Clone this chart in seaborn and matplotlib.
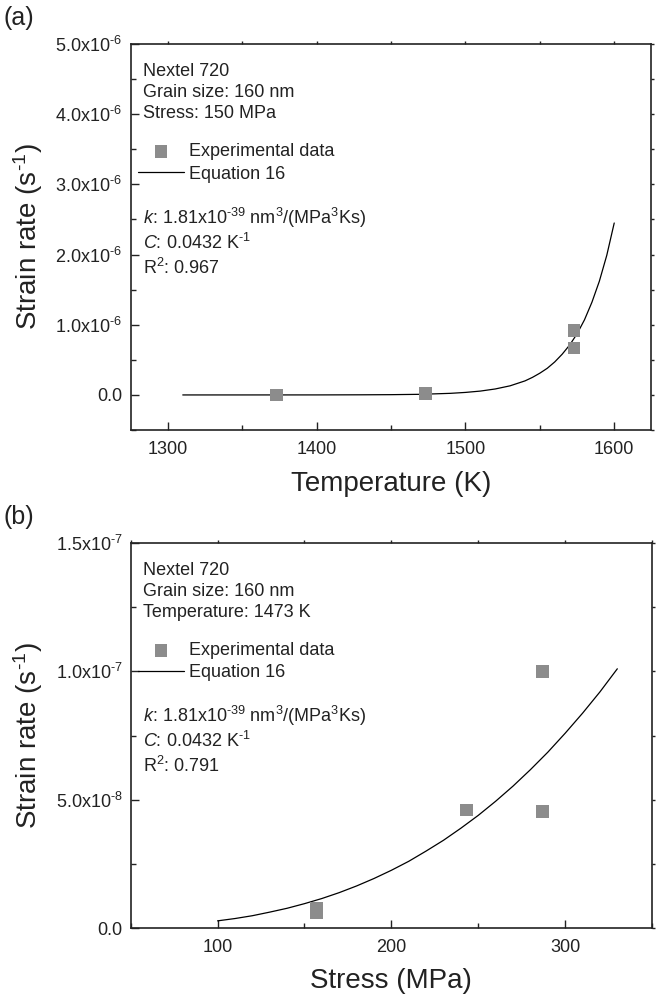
import numpy as np
import pandas as pd
import matplotlib
matplotlib.use("Agg")
import matplotlib.pyplot as plt
from matplotlib.ticker import MultipleLocator, NullFormatter
import seaborn as sns

# ------------------------------------------------------
# Data
# ------------------------------------------------------
# (a) strain rate vs temperature, stress 150 MPa
temp_exp = [1373, 1473, 1573, 1573]
rate_temp_exp = [0.0, 0.02e-6, 0.92e-6, 0.67e-6]
temp_fit = [1310, 1350, 1400, 1430, 1450, 1470, 1490, 1500, 1510, 1520, 1530,
            1540, 1545, 1550, 1555, 1560, 1565, 1570, 1575, 1580, 1585, 1590, 1595, 1600]
rate_temp_fit = [0.0, 0.0001e-6, 0.0005e-6, 0.002e-6, 0.004e-6, 0.009e-6, 0.023e-6,
                 0.036e-6, 0.055e-6, 0.085e-6, 0.13e-6, 0.20e-6, 0.25e-6, 0.31e-6,
                 0.38e-6, 0.47e-6, 0.58e-6, 0.71e-6, 0.87e-6, 1.07e-6, 1.32e-6,
                 1.62e-6, 1.99e-6, 2.45e-6]

# (b) strain rate vs stress, temperature 1473 K
stress_exp = [157, 157, 243, 287, 287]
rate_stress_exp = [0.75e-8, 0.6e-8, 4.6e-8, 4.55e-8, 10.0e-8]
stress_fit = [100, 110, 120, 130, 140, 150, 160, 170, 180, 190, 200, 210, 220,
              230, 240, 250, 260, 270, 280, 290, 300, 310, 320, 330]
rate_stress_fit = [0.28e-8, 0.37e-8, 0.48e-8, 0.62e-8, 0.77e-8, 0.95e-8, 1.15e-8,
                   1.38e-8, 1.64e-8, 1.93e-8, 2.25e-8, 2.6e-8, 3.0e-8, 3.42e-8,
                   3.89e-8, 4.39e-8, 4.94e-8, 5.53e-8, 6.17e-8, 6.85e-8, 7.59e-8,
                   8.37e-8, 9.2e-8, 10.1e-8]

# tick labels
ticks_a = [0, 1e-6, 2e-6, 3e-6, 4e-6, 5e-6]
ticklabels_a = ["0.0", r"1.0x10$^{\text{-6}}$", r"2.0x10$^{\text{-6}}$", r"3.0x10$^{\text{-6}}$",
                r"4.0x10$^{\text{-6}}$", r"5.0x10$^{\text{-6}}$"]
ticks_b = [0, 5e-8, 1e-7, 1.5e-7]
ticklabels_b = ["0.0", r"5.0x10$^{\text{-8}}$", r"1.0x10$^{\text{-7}}$", r"1.5x10$^{\text{-7}}$"]

info_a = ["Nextel 720", "Grain size: 160 nm", "Stress: 150 MPa"]
info_b = ["Nextel 720", "Grain size: 160 nm", "Temperature: 1473 K"]
fit_a = [r"$k$: 1.81x10$^{\text{-39}}$ nm$^{3}$/(MPa$^{3}$Ks)", r"$C$: 0.0432 K$^{\text{-1}}$",
         "R$^{2}$: 0.967"]
fit_b = [r"$k$: 1.81x10$^{\text{-39}}$ nm$^{3}$/(MPa$^{3}$Ks)", r"$C$: 0.0432 K$^{\text{-1}}$",
         "R$^{2}$: 0.791"]

# ------------------------------------------------------
# Style
# ------------------------------------------------------
sns.set_style("ticks")
plt.rcParams["font.family"] = ["Liberation Sans", "DejaVu Sans"]
plt.rcParams["mathtext.fontset"] = "custom"
plt.rcParams["mathtext.rm"] = "Liberation Sans"
plt.rcParams["mathtext.it"] = "Liberation Sans:italic"
plt.rcParams["mathtext.bf"] = "Liberation Sans:bold"
plt.rcParams["axes.unicode_minus"] = False

FS = 13
DARK = "#222222"
GREY = "#8c8c8c"

fig = plt.figure(figsize=(6.6, 9.98), dpi=100)
ax_a = fig.add_axes([0.198, 0.5691, 0.789, 0.3868])
ax_b = fig.add_axes([0.198, 0.0701, 0.790, 0.3858])


def style_axes(ax, xticks, yticks, ymin_step):
    for sp in ax.spines.values():
        sp.set_linewidth(1.2)
        sp.set_color(DARK)
    ax.tick_params(axis="both", which="major", direction="in", length=6, width=1.0,
                   labelsize=FS, colors=DARK, labelcolor=DARK)
    ax.tick_params(axis="both", which="minor", direction="in", length=3.5, width=1.0,
                   colors=DARK)
    ax.tick_params(axis="x", which="major", pad=8)
    ax.tick_params(axis="y", which="major", pad=6)
    # small outward ticks on the opposite sides
    sec_y = ax.secondary_yaxis("right")
    sec_y.set_yticks(yticks)
    sec_y.yaxis.set_minor_locator(MultipleLocator(ymin_step))
    sec_x = ax.secondary_xaxis("top")
    sec_x.set_xticks(xticks)
    sec_x.xaxis.set_minor_locator(MultipleLocator(50))
    for sec in (sec_x, sec_y):
        sec.tick_params(which="both", direction="out", length=2.5, width=1.0, colors=DARK,
                        labelright=False, labeltop=False)
        for sp in sec.spines.values():
            sp.set_visible(False)


def draw_panel(ax, xe, ye, xf, yf, info, fit, xlim, xticks, ylim, yticks, ylabels,
               ymin_step, xlabel):
    df_e = pd.DataFrame({"x": xe, "y": ye})
    df_f = pd.DataFrame({"x": xf, "y": yf})
    sns.scatterplot(data=df_e, x="x", y="y", ax=ax, marker="s", s=85, color=GREY,
                    edgecolor="none", label="Experimental data", zorder=3)
    sns.lineplot(data=df_f, x="x", y="y", ax=ax, color="black", linewidth=0.9,
                 label="Equation 16", zorder=2)
    ax.set_xlim(*xlim)
    ax.set_xticks(xticks)
    ax.set_ylim(*ylim)
    ax.set_yticks(yticks)
    ax.set_yticklabels(ylabels)
    ax.yaxis.set_minor_locator(MultipleLocator(ymin_step))
    ax.xaxis.set_minor_locator(MultipleLocator(50))
    style_axes(ax, xticks, yticks, ymin_step)
    ax.set_xlabel(xlabel, fontsize=20, color=DARK)
    ax.set_ylabel(r"Strain rate (s$^{\text{-1}}$)", fontsize=20, color=DARK)
    ax.xaxis.set_label_coords(0.5, -0.105)
    ax.yaxis.set_label_coords(-0.165, 0.5)

    for i, t in enumerate(info):
        ax.text(0.024, 0.928 - i * 0.054, t, transform=ax.transAxes, fontsize=FS,
                va="center", ha="left", color=DARK)
    for i, t in enumerate(fit):
        ax.text(0.024, 0.55 - i * 0.065, t, transform=ax.transAxes, fontsize=FS,
                va="center", ha="left", color=DARK)
    ax.legend(loc="center left", bbox_to_anchor=(0.014, 0.692), frameon=False,
              fontsize=FS, handlelength=2.55, handletextpad=0.3, labelspacing=0.3,
              borderpad=0, borderaxespad=0, labelcolor=DARK)


draw_panel(ax_a, temp_exp, rate_temp_exp, temp_fit, rate_temp_fit, info_a, fit_a,
           (1275, 1625), [1300, 1400, 1500, 1600],
           (-0.5e-6, 5e-6), ticks_a, ticklabels_a, 0.5e-6, "Temperature (K)")

draw_panel(ax_b, stress_exp, rate_stress_exp, stress_fit, rate_stress_fit, info_b, fit_b,
           (50, 350), [100, 200, 300],
           (0, 1.5e-7), ticks_b, ticklabels_b, 2.5e-8, "Stress (MPa)")

fig.text(0.006, 0.982, "(a)", fontsize=18, va="center", ha="left", color=DARK)
fig.text(0.006, 0.482, "(b)", fontsize=18, va="center", ha="left", color=DARK)

fig.savefig("out.png", dpi=100)
plt.close(fig)
